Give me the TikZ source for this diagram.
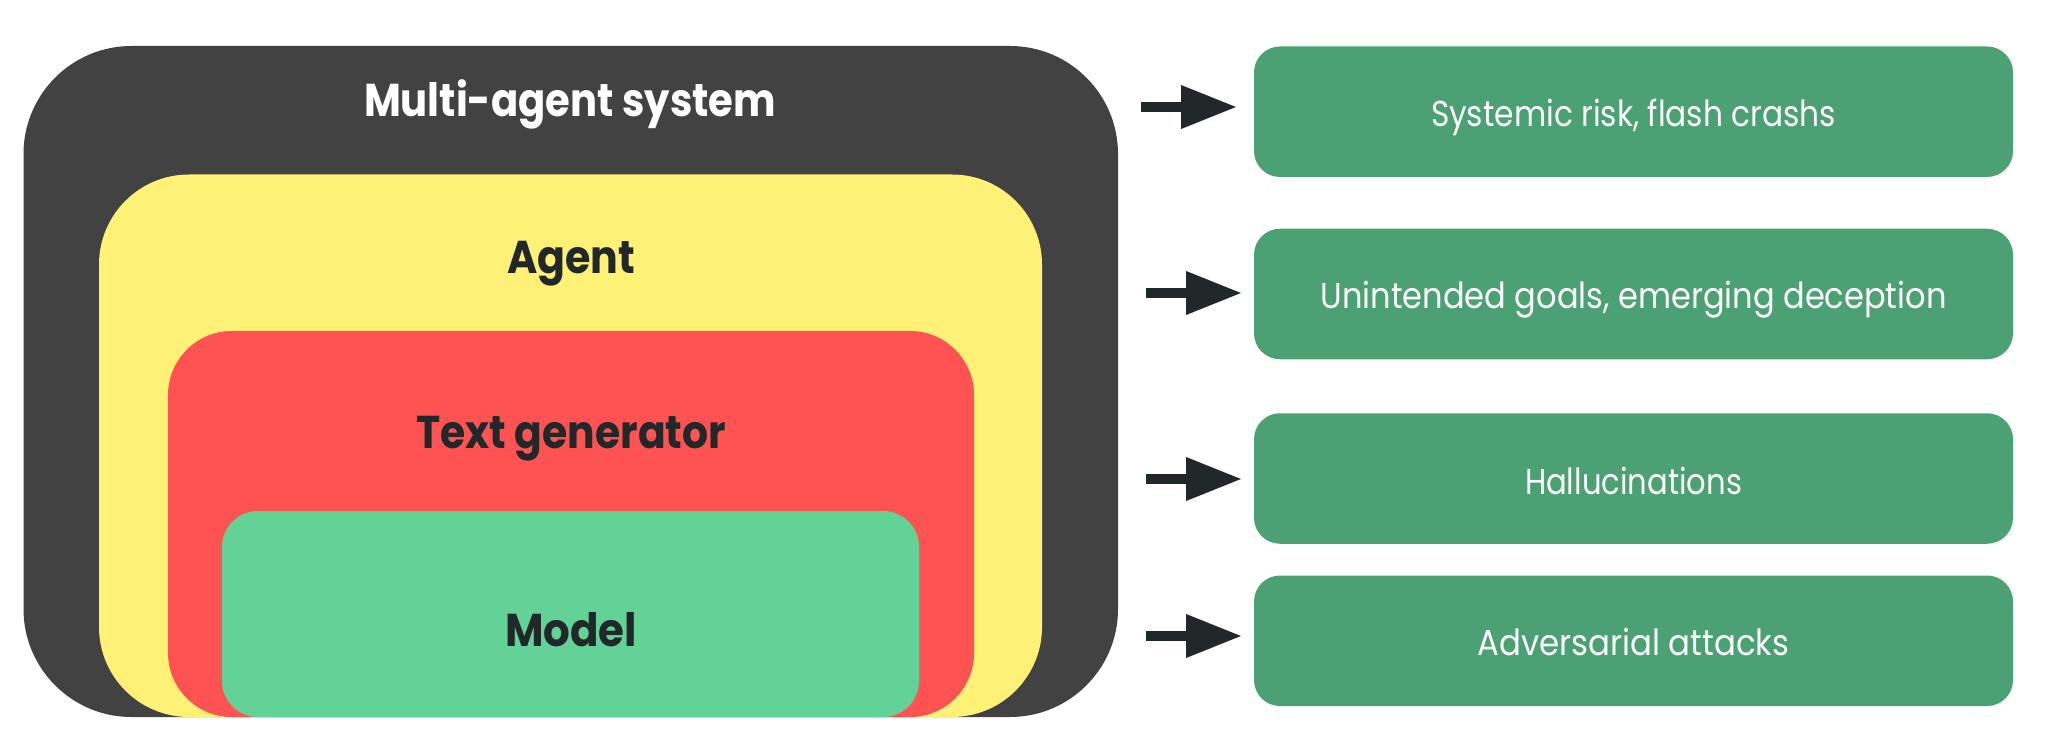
\documentclass[tikz,border=0pt]{standalone}
\usepackage{fontspec}
\usepackage{graphicx}
\setmainfont{Poppins}
\usetikzlibrary{arrows.meta}
\definecolor{darkbox}{HTML}{424242}
\definecolor{yellowbox}{HTML}{FFF176}
\definecolor{redbox}{HTML}{FF5252}
\definecolor{mintbox}{HTML}{62D297}
\definecolor{riskbox}{HTML}{4BA173}
\definecolor{inkdark}{HTML}{212829}
\newlength\fitlen
\newcommand\fitw[2]{\settowidth\fitlen{#2}\pgfmathsetmacro\fitf{#1/\fitlen}\scalebox{\fitf}[1]{#2}}
\tikzset{
  layer/.style={inner sep=0, draw=none},
  risk/.style={inner sep=0, draw=none, fill=riskbox, rounded corners=13pt,
    minimum width=379.5pt, minimum height=65.25pt},
  lbl/.style={inner sep=0, anchor=base, text=inkdark, font=\fontsize{23}{23}\selectfont\bfseries},
  rlbl/.style={inner sep=0, anchor=base, text=white, font=\fontsize{18}{18}\selectfont},
  riskarrow/.style={draw=inkdark, line width=5pt, -{Triangle[length=28pt,width=20.5pt]}, shorten >=0pt}
}
\begin{document}
\begin{tikzpicture}[x=0.5pt,y=-0.5pt]
\useasboundingbox (0,0) rectangle (2048,748);
% nested layers
\node[layer, fill=darkbox, rounded corners=54pt, minimum width=547.25pt, minimum height=335.5pt] (mas) at (570.75,381.5) {};
\node[layer, fill=yellowbox, rounded corners=45pt, minimum width=471.5pt, minimum height=271.25pt] (agent) at (570.5,445.75) {};
\node[layer, fill=redbox, rounded corners=32pt, minimum width=403pt, minimum height=193pt] (textgen) at (571,524) {};
\node[layer, fill=mintbox, rounded corners=18pt, minimum width=348.5pt, minimum height=103pt] (model) at (570.5,614) {};
% labels
\node[lbl, text=white] (masl) at (570,117) {\fitw{206pt}{Multi-agent system}};
\node[lbl] (agentl) at (571,274) {\fitw{64pt}{Agent}};
\node[lbl] (textgenl) at (571,448.5) {\fitw{155pt}{Text generator}};
\node[lbl] (modell) at (571,646.5) {\fitw{66pt}{Model}};
% risk boxes
\node[risk] (r1) at (1633.5,111.75) {};
\node[risk] (r2) at (1633.5,294) {};
\node[risk] (r3) at (1633.5,478.5) {};
\node[risk] (r4) at (1633.5,640.75) {};
\node[rlbl] (r1l) at (1633.5,127) {\fitw{202.5pt}{Systemic risk, flash crashs}};
\node[rlbl] (r2l) at (1633.5,309) {\fitw{313pt}{Unintended goals, emerging deception}};
\node[rlbl] (r3l) at (1633.5,494) {\fitw{108.5pt}{Hallucinations}};
\node[rlbl] (r4l) at (1633.5,655) {\fitw{156pt}{Adversarial attacks}};
% arrows
\coordinate (a1s) at (1141,107); \coordinate (a1e) at (1237,107);
\coordinate (a2s) at (1146,293); \coordinate (a2e) at (1242,293);
\coordinate (a3s) at (1146,479); \coordinate (a3e) at (1242,479);
\coordinate (a4s) at (1146,636); \coordinate (a4e) at (1242,636);
\draw[riskarrow] (a1s) -- (a1e);
\draw[riskarrow] (a2s) -- (a2e);
\draw[riskarrow] (a3s) -- (a3e);
\draw[riskarrow] (a4s) -- (a4e);
\end{tikzpicture}
\end{document}
